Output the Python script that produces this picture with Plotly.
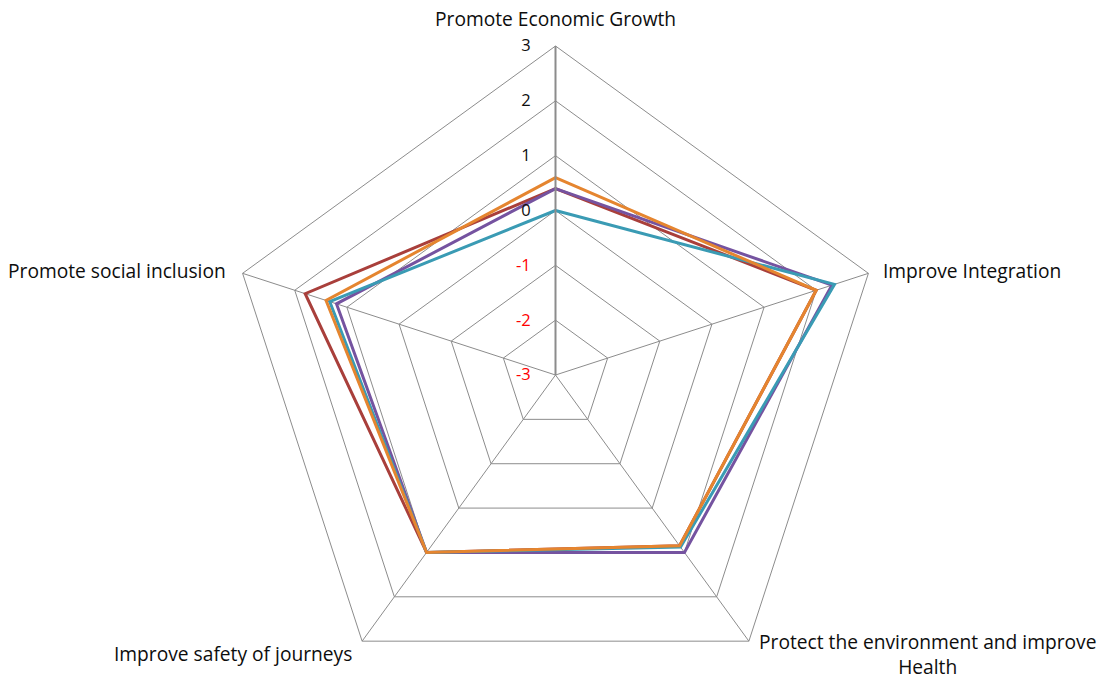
import math
import plotly.graph_objects as go

# Objectives scored on a -3 .. +3 scale
categories = [
    "Promote Economic Growth",
    "Improve Integration",
    "Protect the environment and improve Health",
    "Improve safety of journeys",
    "Promote social inclusion",
]
category_labels = [
    "Promote Economic Growth",
    "Improve Integration",
    "Protect the environment and improve<br>Health",
    "Improve safety of journeys",
    "Promote social inclusion",
]

option_red = [0.4, 2.0, 0.85, 1.0, 1.8]
option_purple = [0.4, 2.3, 1.0, 1.0, 1.2]
option_teal = [0.0, 2.35, 0.88, 1.0, 1.33]
option_orange = [0.6, 2.0, 0.85, 1.0, 1.4]

series = [
    ("Option 1", option_red, "#A93F3B"),
    ("Option 2", option_purple, "#7553A0"),
    ("Option 3", option_teal, "#3A9BB4"),
    ("Option 4", option_orange, "#E5852F"),
]

tick_values = [-3, -2, -1, 0, 1, 2, 3]
tick_labels = [
    f'<span style="color:#FF0000">{v}</span>' if v < 0 else str(v)
    for v in tick_values
]

W, H = 1101, 720
ML, MR, MT, MB = 10, 0, 46, 16
FONT = "Open Sans"
LABEL_SIZE = 19.2

fig = go.Figure()
for name, values, color in series:
    fig.add_trace(
        go.Scatterpolar(
            r=values + values[:1],
            theta=categories + categories[:1],
            mode="lines",
            name=name,
            line=dict(color=color, width=3),
        )
    )

# Category captions placed just outside each vertex of the outer ring
plot_w, plot_h = W - ML - MR, H - MT - MB
radius = min(plot_w, plot_h) / 2
cx, cy = ML + plot_w / 2, MT + plot_h / 2
caption_style = [
    # (xanchor, dx, dy) in pixels relative to the vertex
    ("center", 0, -27),
    ("left", 12.5, -3),
    ("left", 8, 13),
    ("right", -8, 12),
    ("right", -15, -3),
]
for k, (label, (xa, dx, dy)) in enumerate(zip(category_labels, caption_style)):
    ang = math.radians(90 - 72 * k)
    vx = cx + radius * math.cos(ang) + dx
    vy = cy - radius * math.sin(ang) + dy
    fig.add_annotation(
        text=label,
        x=(vx - ML) / plot_w,
        y=(H - MB - vy) / plot_h,
        xref="paper",
        yref="paper",
        xanchor=xa,
        yanchor="middle",
        align="center",
        showarrow=False,
        font=dict(family=FONT, size=LABEL_SIZE, color="#0D0D0D"),
    )

grid = "#8C8C8C"
fig.update_layout(
    width=W,
    height=H,
    margin=dict(l=ML, r=MR, t=MT, b=MB),
    paper_bgcolor="white",
    showlegend=False,
    font=dict(family=FONT, size=LABEL_SIZE, color="#0D0D0D"),
    polar=dict(
        bgcolor="white",
        gridshape="linear",
        radialaxis=dict(
            range=[-3, 3],
            tickvals=tick_values,
            ticktext=tick_labels,
            angle=90,
            side="counterclockwise",
            tickangle=90,
            showline=True,
            linecolor=grid,
            linewidth=2,
            gridcolor=grid,
            gridwidth=1,
            ticks="outside",
            ticklen=18,
            tickcolor="rgba(0,0,0,0)",
            tickfont=dict(family=FONT, size=16.5, color="#0D0D0D"),
        ),
        angularaxis=dict(
            direction="clockwise",
            rotation=90,
            showline=True,
            linecolor=grid,
            linewidth=1,
            gridcolor=grid,
            gridwidth=1,
            ticks="",
            showticklabels=False,
        ),
    ),
)

fig.write_html(
    "out.html",
    post_script="document.body.style.overflow='hidden';document.body.style.margin='0';",
)
